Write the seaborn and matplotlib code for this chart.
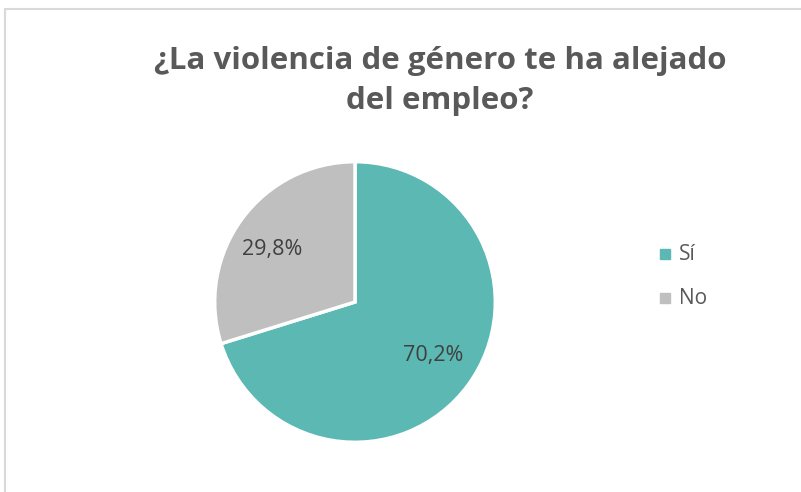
import matplotlib
matplotlib.use("Agg")
import matplotlib.pyplot as plt
from matplotlib.lines import Line2D
import seaborn as sns

categorias = ["Sí", "No"]
porcentajes = [70.2, 29.8]
etiquetas = ["70,2%", "29,8%"]
colores = ["#5BB8B3", "#BFBFBF"]
titulo = "¿La violencia de género te ha alejado\ndel empleo?"

sns.set_style("white")
plt.rcParams['font.family'] = ['Open Sans', 'DejaVu Sans']

W, H = 801, 492
fig = plt.figure(figsize=(W / 100, H / 100), dpi=100)

# chart frame (top and left edges only visible)
fig.add_artist(Line2D([5 / W, 1], [1 - 9 / H, 1 - 9 / H], color="#D9D9D9", lw=1.5, transform=fig.transFigure))
fig.add_artist(Line2D([5 / W, 5 / W], [0, 1 - 9 / H], color="#D9D9D9", lw=1.5, transform=fig.transFigure))

cx, cy, r = 355, 302, 141
ax = fig.add_axes([(cx - r) / W, 1 - (cy + r) / H, 2 * r / W, 2 * r / H])
wedges, _ = ax.pie(porcentajes, colors=colores, startangle=90, counterclock=False,
                   wedgeprops=dict(edgecolor="white", linewidth=2.5))
ax.set_xlim(-1.005, 1.005)
ax.set_ylim(-1.005, 1.005)
ax.set_aspect("equal")

# data labels
pos = [(433, 356), (272, 250)]
for (px, py), txt in zip(pos, etiquetas):
    fig.text(px / W, 1 - py / H, txt, ha="center", va="center", fontsize=15.5, color="#404040")

fig.text(440 / W, 1 - 81 / H, titulo, ha="center", va="center", fontsize=22.5,
         fontweight="bold", color="#595959", linespacing=1.45)

# legend
for i, (cat, col) in enumerate(zip(categorias, colores)):
    y = 254 + i * 44
    fig.add_artist(Line2D([665 / W], [1 - y / H], marker="s", markersize=7.5, color=col,
                          linestyle="none", transform=fig.transFigure))
    fig.text(679 / W, 1 - y / H, cat, ha="left", va="center", fontsize=15, color="#595959")

fig.savefig("out.png", dpi=100)
